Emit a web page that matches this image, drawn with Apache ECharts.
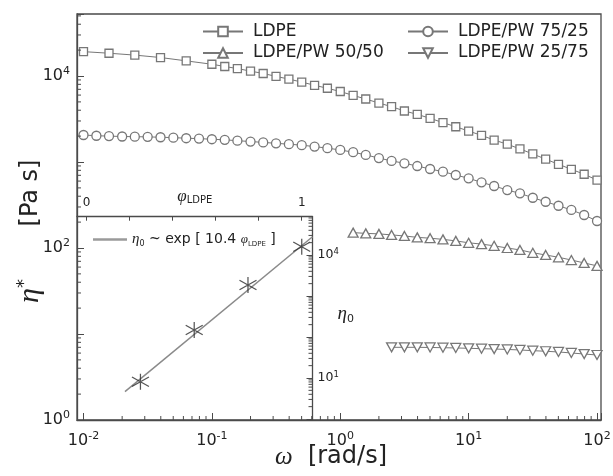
<!DOCTYPE html>
<html>
<head>
<meta charset="utf-8">
<script src="https://cdn.jsdelivr.net/npm/echarts@6/dist/echarts.min.js"></script>
<style>
  html, body { margin: 0; padding: 0; background: #fff; }
  #chart { width: 613px; height: 476px; }
</style>
</head>
<body>
<div id="chart"></div>
<script>
// ---- complex viscosity η* versus angular frequency ω ----
const omegaLdpe = [0.01, 0.0158, 0.0251, 0.0398, 0.0631, 0.1, 0.126, 0.158, 0.2, 0.251, 0.316, 0.398, 0.501, 0.631, 0.794,
  1, 1.26, 1.58, 2, 2.51, 3.16, 3.98, 5.01, 6.31, 7.94, 10, 12.6, 15.8, 20, 25.1, 31.6, 39.8, 50.1, 63.1, 79.4, 100];
const etaLdpe = [19200, 18400, 17500, 16400, 15000, 13700, 12900, 12200, 11400, 10700, 9900, 9200, 8500, 7800, 7200,
  6600, 5950, 5400, 4850, 4400, 3920, 3580, 3220, 2870, 2570, 2290, 2040, 1800, 1610, 1420, 1240, 1080, 940, 823, 720, 617];

const omega7525 = [0.01, 0.0126, 0.0158, 0.02, 0.0251, 0.0316, 0.0398, 0.0501, 0.0631, 0.0794,
  0.1, 0.126, 0.158, 0.2, 0.251, 0.316, 0.398, 0.501, 0.631, 0.794,
  1, 1.26, 1.58, 2, 2.51, 3.16, 3.98, 5.01, 6.31, 7.94,
  10, 12.6, 15.8, 20, 25.1, 31.6, 39.8, 50.1, 63.1, 79.4, 100];
const eta7525 = [2060, 2020, 2000, 1980, 1970, 1960, 1940, 1920, 1890, 1870,
  1840, 1810, 1770, 1730, 1690, 1650, 1610, 1570, 1510, 1450,
  1380, 1300, 1210, 1110, 1030, 966, 898, 829, 772, 706,
  646, 580, 526, 472, 432, 384, 345, 310, 277, 242, 206];

const omega5050 = [1.26, 1.58, 2, 2.51, 3.16, 3.98, 5.01, 6.31, 7.94,
  10, 12.6, 15.8, 20, 25.1, 31.6, 39.8, 50.1, 63.1, 79.4, 100];
const eta5050 = [151, 148, 146, 142, 138, 133, 130, 126, 121,
  115, 111, 106, 100, 95, 88, 83, 78, 72.5, 67, 62];

const omega2575 = [2.51, 3.16, 3.98, 5.01, 6.31, 7.94,
  10, 12.6, 15.8, 20, 25.1, 31.6, 39.8, 50.1, 63.1, 79.4, 100];
const eta2575 = [7.0, 7.0, 7.0, 6.97, 6.93, 6.88,
  6.82, 6.75, 6.69, 6.61, 6.52, 6.40, 6.30, 6.18, 6.02, 5.85, 5.70];

// ---- inset: zero-shear viscosity η0 versus LDPE fraction ----
const phiLdpe = [0.25, 0.5, 0.75, 1.0];
const eta0 = [8.1, 148, 1850, 15900];
const fitPhi = [0.178, 1.05];
const fitEta0 = [4.64, 27900];

// ---- axis ranges and minor tick positions ----
const OMEGA_MIN = 0.0089, OMEGA_MAX = 107.4;
const ETA_MIN = 1, ETA_MAX = 52600;
const PHI_MIN = -0.045, PHI_MAX = 1.05;
const ETA0_MIN = 0.945, ETA0_MAX = 85900;

const minorOmega = [0.02, 0.03, 0.04, 0.05, 0.06, 0.07, 0.08, 0.09,
  0.2, 0.3, 0.4, 0.5, 0.6, 0.7, 0.8, 0.9,
  2, 3, 4, 5, 6, 7, 8, 9,
  20, 30, 40, 50, 60, 70, 80, 90];
const minorEta = [2, 3, 4, 5, 6, 7, 8, 9,
  20, 30, 40, 50, 60, 70, 80, 90,
  200, 300, 400, 500, 600, 700, 800, 900,
  2000, 3000, 4000, 5000, 6000, 7000, 8000, 9000,
  20000, 30000, 40000, 50000];
const minorEta0 = [2, 3, 4, 5, 6, 7, 8, 9,
  20, 30, 40, 50, 60, 70, 80, 90,
  200, 300, 400, 500, 600, 700, 800, 900,
  2000, 3000, 4000, 5000, 6000, 7000, 8000, 9000,
  20000, 30000, 40000, 50000, 60000, 70000, 80000];

const SANS = 'DejaVu Sans';
const SERIF = 'Liberation Serif';
const INK = '#222';
const AXIS = '#4a4a4a';
const MARK = '#777';

const zip = (xs, ys) => xs.map((x, i) => [x, ys[i]]);

function decadeLabel(keep) {
  return function (v) {
    const e = Math.log10(v);
    const r = Math.round(e);
    if (Math.abs(e - r) > 1e-6 || !keep(r)) return '';
    return '{b|10}{s|' + r + '}';
  };
}

const bigRich = {
  b: { fontFamily: SANS, fontSize: 16, lineHeight: 20, color: INK },
  s: { fontFamily: SANS, fontSize: 11, lineHeight: 8, verticalAlign: 'top', color: INK }
};
const smallRich = {
  b: { fontFamily: SANS, fontSize: 12.5, lineHeight: 16, color: INK },
  s: { fontFamily: SANS, fontSize: 8.5, lineHeight: 6, verticalAlign: 'top', color: INK }
};

// short log-decade ticks drawn against an axis line, pointing into the plot
function minorTickSeries(xi, yi, values, horizontal, baseValue, dir, len) {
  return {
    type: 'custom', xAxisIndex: xi, yAxisIndex: yi, silent: true, clip: false, z: 5,
    data: values.map(v => horizontal ? [v, baseValue] : [baseValue, v]),
    renderItem: function (params, api) {
      const p = api.coord([api.value(0), api.value(1)]);
      const dx = horizontal ? 0 : dir * len;
      const dy = horizontal ? dir * len : 0;
      return {
        type: 'line',
        shape: { x1: p[0], y1: p[1], x2: p[0] + dx, y2: p[1] + dy },
        style: { stroke: AXIS, lineWidth: 1 }
      };
    }
  };
}

const lineStyleCommon = { color: MARK, width: 1 };
const hollow = { color: '#fff', borderColor: MARK, borderWidth: 1.3 };

const option = {
  animation: false,
  backgroundColor: '#fff',
  grid: [
    { left: 77, top: 14, width: 524, height: 406, show: true, borderColor: AXIS, borderWidth: 1.3,
      containLabel: false, outerBoundsMode: 'none' },
    { left: 77, top: 216.7, width: 235.5, height: 203.3, show: false,
      containLabel: false, outerBoundsMode: 'none' }
  ],
  xAxis: [
    {
      type: 'log', gridIndex: 0, logBase: 10, min: OMEGA_MIN, max: OMEGA_MAX,
      axisLine: { show: true, onZero: false, lineStyle: { color: AXIS, width: 1.3 } },
      axisTick: { show: true, inside: true, length: 7, lineStyle: { color: AXIS, width: 1 } },
      minorTick: { show: false },
      splitLine: { show: false },
      axisLabel: { margin: 11, formatter: decadeLabel(() => true), rich: bigRich }
    },
    {
      type: 'value', gridIndex: 1, position: 'top', min: PHI_MIN, max: PHI_MAX, splitNumber: 5,
      axisLine: { show: true, onZero: false, lineStyle: { color: AXIS, width: 1.3 } },
      axisTick: { show: true, inside: true, length: 4, lineStyle: { color: AXIS, width: 1 } },
      splitLine: { show: false },
      axisLabel: {
        margin: 8, fontFamily: SANS, fontSize: 12, color: INK,
        formatter: v => (Math.abs(v) < 1e-6 ? '0' : (Math.abs(v - 1) < 1e-6 ? '1' : ''))
      },
      name: '{p|φ}{sub|LDPE}', nameLocation: 'middle', nameGap: 11, nameMoveOverlap: false,
      nameTextStyle: {
        rich: {
          p: { fontFamily: SERIF, fontStyle: 'italic', fontSize: 17, lineHeight: 18, color: INK },
          sub: { fontFamily: SANS, fontSize: 10, lineHeight: 6, verticalAlign: 'bottom', color: INK }
        }
      }
    }
  ],
  yAxis: [
    {
      type: 'log', gridIndex: 0, logBase: 10, min: ETA_MIN, max: ETA_MAX,
      axisLine: { show: true, onZero: false, lineStyle: { color: AXIS, width: 1.3 } },
      axisTick: { show: true, inside: true, length: 7, lineStyle: { color: AXIS, width: 1 } },
      minorTick: { show: false },
      splitLine: { show: false },
      axisLabel: { margin: 7, formatter: decadeLabel(r => r % 2 === 0), rich: bigRich }
    },
    {
      type: 'log', gridIndex: 1, position: 'right', logBase: 10, min: ETA0_MIN, max: ETA0_MAX,
      axisLine: { show: true, onZero: false, lineStyle: { color: AXIS, width: 1.3 } },
      axisTick: { show: true, inside: true, length: 6, lineStyle: { color: AXIS, width: 1 } },
      minorTick: { show: false },
      splitLine: { show: false },
      axisLabel: { margin: 5, formatter: decadeLabel(r => r === 1 || r === 4), rich: smallRich },
      name: '{e|η}{sub|0}', nameLocation: 'middle', nameGap: 25, nameRotate: 0, nameMoveOverlap: false,
      nameTextStyle: {
        padding: [0, 0, 8, 0],
        rich: {
          e: { fontFamily: SERIF, fontStyle: 'italic', fontSize: 19, lineHeight: 20, color: INK },
          sub: { fontFamily: SANS, fontSize: 11, lineHeight: 8, verticalAlign: 'bottom', color: INK }
        }
      }
    }
  ],
  legend: [
    {
      data: ['LDPE', 'LDPE/PW 50/50'], orient: 'vertical', left: 197, top: 18,
      itemWidth: 40, itemHeight: 12, itemGap: 4.5, selectedMode: false,
      textStyle: { fontFamily: SANS, fontSize: 17, color: INK, padding: [0, 0, 0, 5] }
    },
    {
      data: ['LDPE/PW 75/25', 'LDPE/PW 25/75'], orient: 'vertical', left: 402, top: 18,
      itemWidth: 40, itemHeight: 12, itemGap: 4.5, selectedMode: false,
      textStyle: { fontFamily: SANS, fontSize: 17, color: INK, padding: [0, 0, 0, 5] }
    },
    {
      data: [{ name: 'eta0 fit', icon: 'rect', itemStyle: { color: '#9a9a9a' } }],
      left: 88, top: 227, itemWidth: 34, itemHeight: 2.5, selectedMode: false,
      formatter: () => '{e|η}{sub|0}{t| ~ exp [ 10.4 }{p|φ}{sub2|LDPE}{t| ]}',
      textStyle: {
        color: INK,
        rich: {
          e: { fontFamily: SERIF, fontStyle: 'italic', fontSize: 15, lineHeight: 16, color: INK },
          sub: { fontFamily: SANS, fontSize: 8, lineHeight: 5, verticalAlign: 'bottom', color: INK },
          t: { fontFamily: SANS, fontSize: 14, lineHeight: 16, color: INK },
          p: { fontFamily: SERIF, fontStyle: 'italic', fontSize: 13, lineHeight: 16, color: INK },
          sub2: { fontFamily: SANS, fontSize: 7, lineHeight: 5, verticalAlign: 'bottom', color: INK }
        }
      }
    }
  ],
  graphic: [
    {
      type: 'text', x: 331, y: 457,
      style: {
        text: '{w|ω}{t|  [rad/s]}', align: 'center', verticalAlign: 'middle',
        rich: {
          w: { fontFamily: SERIF, fontStyle: 'italic', fontSize: 25, fill: INK },
          t: { fontFamily: SANS, fontSize: 24, fill: INK }
        }
      }
    },
    {
      type: 'text', x: 31, y: 193, rotation: Math.PI / 2,
      style: { text: '[Pa s]', align: 'center', verticalAlign: 'middle', font: '24px "DejaVu Sans"', fill: INK }
    },
    {
      type: 'text', x: 30, y: 291, rotation: Math.PI / 2,
      style: {
        text: '{e|η}{s|*}', align: 'center', verticalAlign: 'middle',
        rich: {
          e: { fontFamily: SERIF, fontStyle: 'italic', fontSize: 30, lineHeight: 30, fill: INK },
          s: { fontFamily: SANS, fontSize: 18, lineHeight: 14, verticalAlign: 'top', fill: INK }
        }
      }
    }
  ],
  series: [
    {
      name: 'LDPE', type: 'line', xAxisIndex: 0, yAxisIndex: 0, data: zip(omegaLdpe, etaLdpe),
      symbol: 'rect', symbolSize: 8, itemStyle: hollow, lineStyle: lineStyleCommon, z: 3
    },
    {
      name: 'LDPE/PW 75/25', type: 'line', xAxisIndex: 0, yAxisIndex: 0, data: zip(omega7525, eta7525),
      symbol: 'circle', symbolSize: 9, itemStyle: hollow, lineStyle: lineStyleCommon, z: 3
    },
    {
      name: 'LDPE/PW 50/50', type: 'line', xAxisIndex: 0, yAxisIndex: 0, data: zip(omega5050, eta5050),
      symbol: 'triangle', symbolSize: [10, 9], itemStyle: hollow, lineStyle: lineStyleCommon, z: 3
    },
    {
      name: 'LDPE/PW 25/75', type: 'line', xAxisIndex: 0, yAxisIndex: 0, data: zip(omega2575, eta2575),
      symbol: 'triangle', symbolRotate: 180, symbolSize: [10, 9], itemStyle: hollow, lineStyle: lineStyleCommon, z: 3
    },
    {
      name: 'eta0 fit', type: 'line', xAxisIndex: 1, yAxisIndex: 1, data: zip(fitPhi, fitEta0),
      symbol: 'none', lineStyle: { color: '#8a8a8a', width: 1.5 }, z: 2
    },
    {
      name: 'eta0', type: 'scatter', xAxisIndex: 1, yAxisIndex: 1, data: zip(phiLdpe, eta0),
      symbol: 'path://M0,-10 L0,10 M-9,-6 L9,6 M-9,6 L9,-6', symbolSize: [17, 16],
      itemStyle: { color: 'none', borderColor: '#2a2a2a', borderWidth: 1.2 }, z: 4
    },
    minorTickSeries(0, 0, minorOmega, true, ETA_MIN, -1, 4),
    minorTickSeries(0, 0, minorEta, false, OMEGA_MIN, 1, 4),
    minorTickSeries(1, 1, minorEta0, false, PHI_MAX, -1, 4)
  ]
};

const chart = echarts.init(document.getElementById('chart'));
chart.setOption(option);
</script>
</body>
</html>
